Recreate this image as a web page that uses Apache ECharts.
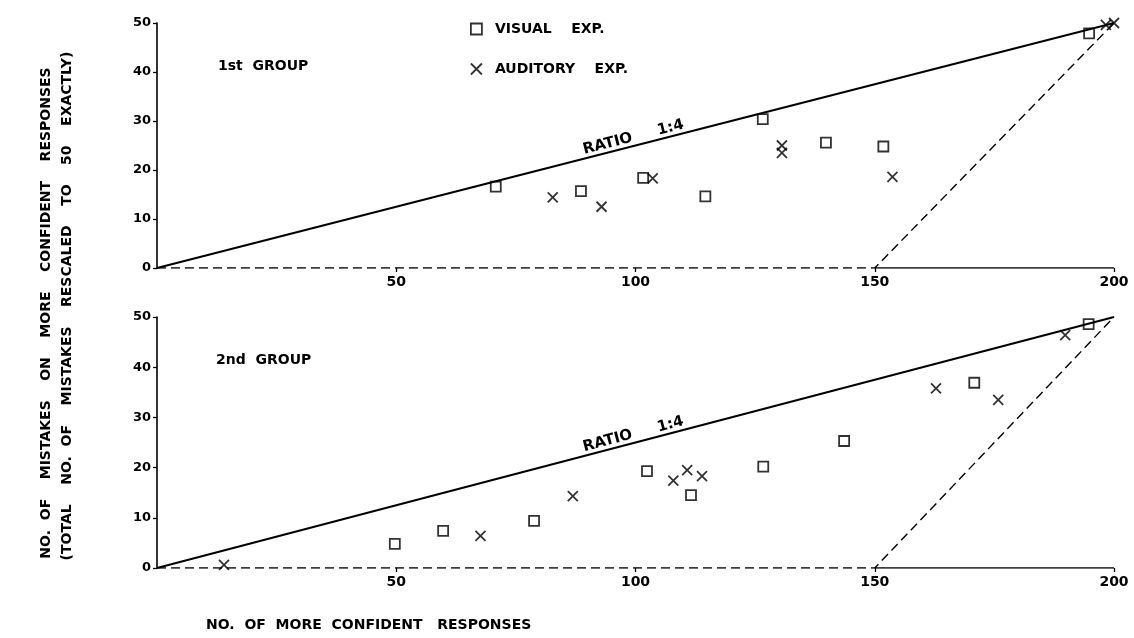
<!DOCTYPE html>
<html><head><meta charset="utf-8">
<script src="https://cdn.jsdelivr.net/npm/echarts@6/dist/echarts.min.js"></script>
<style>html,body{margin:0;padding:0;background:#fff}#c{width:1134px;height:638px}</style>
</head><body><div id="c"></div>
<script>
// ---- data ----
const xTickLabels = [50, 100, 150, 200];
const yTickLabels = [0, 10, 20, 30, 40, 50];
const g1Visual = [[70.8,16.6],[88.6,15.7],[101.6,18.4],[114.6,14.6],[126.6,30.4],[139.8,25.6],[151.8,24.8],[194.8,47.9]];
const g1Auditory = [[82.7,14.4],[92.9,12.5],[103.6,18.3],[130.6,25.0],[130.6,23.5],[153.7,18.6],[198.3,49.6],[200,50]];
const g2Visual = [[49.7,4.8],[59.8,7.4],[78.8,9.4],[102.4,19.3],[111.6,14.5],[126.7,20.2],[143.6,25.3],[170.8,36.9],[194.7,48.6]];
const g2Auditory = [[14.0,0.6],[67.6,6.4],[86.9,14.3],[107.9,17.4],[110.8,19.5],[113.9,18.3],[162.8,35.8],[175.8,33.5],[189.8,46.4]];
const ratioLine = [[0,0],[200,50]];
const boundaryDashed = [[0,0],[150,0],[200,50]];
const boundarySolid = [[150,0],[200,0]];
const groupNames = ['1st  GROUP', '2nd  GROUP'];
const seriesNames = ['VISUAL    EXP.', 'AUDITORY    EXP.'];
const ratioText = 'RATIO     1:4';
const yTitle1 = 'NO.  OF    MISTAKES    ON    MORE    CONFIDENT    RESPONSES';
const yTitle2 = '(TOTAL    NO.  OF    MISTAKES    RESCALED    TO    50    EXACTLY)';
const xTitle = 'NO.  OF  MORE  CONFIDENT   RESPONSES';

// ---- chart ----
const FONT = 'DejaVu Sans';
const xPath = 'path://M0,0L10,10M10,0L0,10';
const markStyle = {color: 'transparent', borderColor: '#000', borderWidth: 1.8};
const chart = echarts.init(document.getElementById('c'), null, {renderer: 'canvas'});

function xAxisFor(i) {
  return {
    gridIndex: i, type: 'value', min: 0, max: 200, interval: 50,
    axisLine: {show: false},
    axisTick: {show: true, length: 4, lineStyle: {color: '#000', width: 1.3},
               customValues: xTickLabels},
    axisLabel: {color: '#000', fontFamily: FONT, fontWeight: 'bold', fontSize: 14, margin: 7,
                customValues: xTickLabels},
    splitLine: {show: false}
  };
}
function yAxisFor(i) {
  return {
    gridIndex: i, type: 'value', min: 0, max: 50, interval: 10,
    axisLine: {show: true, lineStyle: {color: '#000', width: 1.6}},
    axisTick: {show: true, length: 4, lineStyle: {color: '#000', width: 1.3}},
    axisLabel: {color: '#000', fontFamily: FONT, fontWeight: 'bold', fontSize: 13, margin: 6,
                customValues: yTickLabels},
    splitLine: {show: false}
  };
}
function panelSeries(i, visual, auditory) {
  return [
    {type: 'line', xAxisIndex: i, yAxisIndex: i, data: ratioLine, symbol: 'none', silent: true,
     lineStyle: {color: '#000', width: 2}, z: 1,
     markLine: {silent: true, symbol: 'none', lineStyle: {color: 'rgba(0,0,0,0)', width: 0},
       label: {show: true, position: 'insideMiddleTop', formatter: ratioText, color: '#000',
               fontFamily: FONT, fontWeight: 'bold', fontSize: 15, distance: 1},
       data: [[{coord: ratioLine[0]}, {coord: ratioLine[1]}]]}},
    {type: 'line', xAxisIndex: i, yAxisIndex: i, data: boundaryDashed, symbol: 'none', silent: true,
     lineStyle: {color: '#000', width: 1.4, type: [9, 5]}, z: 1},
    {type: 'line', xAxisIndex: i, yAxisIndex: i, data: boundarySolid, symbol: 'none', silent: true,
     lineStyle: {color: '#000', width: 1.7}, z: 1},
    {name: seriesNames[0], type: 'scatter', xAxisIndex: i, yAxisIndex: i, data: visual,
     symbol: 'rect', symbolSize: 10, itemStyle: markStyle, z: 3},
    {name: seriesNames[1], type: 'scatter', xAxisIndex: i, yAxisIndex: i, data: auditory,
     symbol: xPath, symbolSize: 10, itemStyle: markStyle, z: 3}
  ];
}
const legendText = {color: '#000', fontFamily: FONT, fontWeight: 'bold', fontSize: 14, padding: [0, 0, 0, 8]};
const titleText = {color: '#000', fontFamily: FONT, fontWeight: 'bold', fontSize: 14};

chart.setOption({
  animation: false,
  backgroundColor: '#fff',
  grid: [
    {left: 157, right: 20, top: 23, height: 245},
    {left: 157, right: 20, top: 317, height: 251}
  ],
  xAxis: [xAxisFor(0), xAxisFor(1)],
  yAxis: [yAxisFor(0), yAxisFor(1)],
  legend: [
    {left: 470, top: 22, padding: 0, itemWidth: 11, itemHeight: 11, textStyle: legendText,
     data: [{name: seriesNames[0], icon: 'rect', itemStyle: markStyle}]},
    {left: 470, top: 62, padding: 0, itemWidth: 11, itemHeight: 11, textStyle: legendText,
     data: [{name: seriesNames[1], icon: xPath, itemStyle: markStyle}]}
  ],
  title: [
    {text: groupNames[0], left: 218, top: 59, padding: 0, textStyle: titleText},
    {text: groupNames[1], left: 216, top: 353, padding: 0, textStyle: titleText}
  ],
  graphic: [
    {type: 'text', x: 46, y: 313, rotation: Math.PI / 2,
     style: {text: yTitle1, fill: '#000', font: 'bold 14px "DejaVu Sans"', align: 'center', verticalAlign: 'middle'}},
    {type: 'text', x: 67, y: 306, rotation: Math.PI / 2,
     style: {text: yTitle2, fill: '#000', font: 'bold 14px "DejaVu Sans"', align: 'center', verticalAlign: 'middle'}},
    {type: 'text', x: 206, y: 625,
     style: {text: xTitle, fill: '#000', font: 'bold 14px "DejaVu Sans"', align: 'left', verticalAlign: 'middle'}}
  ],
  series: [].concat(panelSeries(0, g1Visual, g1Auditory), panelSeries(1, g2Visual, g2Auditory))
});
</script></body></html>
